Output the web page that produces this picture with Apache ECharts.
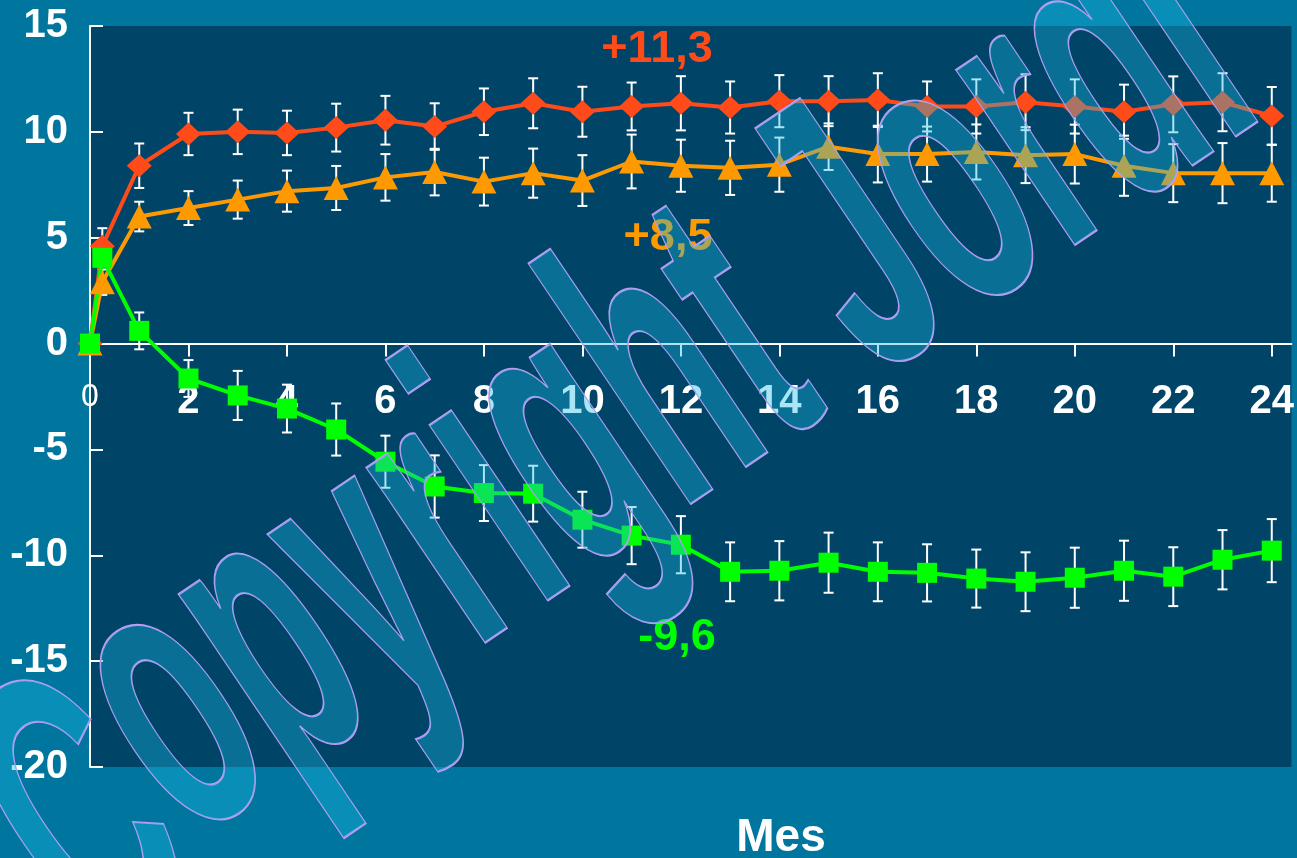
<!DOCTYPE html>
<html>
<head>
<meta charset="utf-8">
<script src="https://cdn.jsdelivr.net/npm/echarts@6/dist/echarts.min.js"></script>
<style>
html, body { margin: 0; padding: 0; background: #00769F; }
#main { width: 1297px; height: 858px; }
</style>
</head>
<body>
<div id="main"></div>
<script>
// meses (0, 1 semana, 1..24)
var months = [0, 0.25, 1, 2, 3, 4, 5, 6, 7, 8, 9, 10, 11, 12, 13, 14, 15, 16, 17, 18, 19, 20, 21, 22, 23, 24];

var redVals = [0, 4.6, 8.4, 9.9, 10.0, 9.95, 10.2, 10.55, 10.25, 10.95, 11.35, 10.95, 11.2, 11.35, 11.15, 11.45, 11.45, 11.5, 11.2, 11.2, 11.4, 11.2, 10.95, 11.3, 11.4, 10.75];
var redErr = [0, 0.85, 1.05, 1.0, 1.05, 1.05, 1.13, 1.15, 1.1, 1.1, 1.18, 1.18, 1.13, 1.28, 1.23, 1.23, 1.18, 1.27, 1.18, 1.28, 1.32, 1.28, 1.28, 1.32, 1.37, 1.37];

var orangeVals = [0, 2.9, 6.0, 6.4, 6.8, 7.2, 7.35, 7.85, 8.1, 7.65, 8.05, 7.7, 8.6, 8.4, 8.3, 8.45, 9.3, 8.95, 8.95, 9.05, 8.9, 8.95, 8.4, 8.05, 8.05, 8.05];
var orangeErr = [0, 0.6, 0.7, 0.8, 0.9, 0.97, 1.04, 1.1, 1.1, 1.13, 1.16, 1.2, 1.27, 1.23, 1.28, 1.28, 1.1, 1.34, 1.3, 1.3, 1.32, 1.39, 1.42, 1.37, 1.42, 1.35];

var greenVals = [0, 4.05, 0.6, -1.65, -2.45, -3.07, -4.06, -5.58, -6.75, -7.06, -7.09, -8.32, -9.07, -9.5, -10.78, -10.73, -10.35, -10.78, -10.83, -11.1, -11.25, -11.06, -10.73, -11.01, -10.21, -9.78];
var greenErr = [0, 0, 0.87, 0.87, 1.16, 1.13, 1.23, 1.23, 1.47, 1.32, 1.32, 1.32, 1.35, 1.35, 1.39, 1.4, 1.42, 1.39, 1.35, 1.37, 1.39, 1.42, 1.42, 1.39, 1.4, 1.49];

var endLabels = ['+11,3', '+8,5', '-9,6'];
var xTitle = 'Mes';
var watermark = ['C', 'opyright Jordi'];

var RED = '#FF4B19', ORANGE = '#FF9900', GREEN = '#00FF00';

// grid box
var GRID_TOP = 26, GRID_BOTTOM = 91, H = 858;
var Y_MIN = -20, Y_MAX = 15;
var plotH = H - GRID_TOP - GRID_BOTTOM;
// move x axis up to y = 0
var xOffset = -plotH * (0 - Y_MIN) / (Y_MAX - Y_MIN);

function pairs(vals) {
    return months.map(function (m, i) { return [m, vals[i]]; });
}
function errPairs(vals, errs) {
    return months.map(function (m, i) { return [m, vals[i] - errs[i], vals[i] + errs[i]]; });
}

function renderErr(params, api) {
    var x = api.value(0), lo = api.value(1), hi = api.value(2);
    if (hi - lo < 0.01) return null;
    var p1 = api.coord([x, hi]);
    var p2 = api.coord([x, lo]);
    var w = 5;
    var st = { stroke: '#ffffff', lineWidth: 2 };
    return {
        type: 'group',
        children: [
            { type: 'line', shape: { x1: p1[0], y1: p1[1], x2: p2[0], y2: p2[1] }, style: st },
            { type: 'line', shape: { x1: p1[0] - w, y1: p1[1], x2: p1[0] + w, y2: p1[1] }, style: st },
            { type: 'line', shape: { x1: p2[0] - w, y1: p2[1], x2: p2[0] + w, y2: p2[1] }, style: st }
        ]
    };
}

function errSeries(vals, errs) {
    return {
        type: 'custom',
        renderItem: renderErr,
        encode: { x: 0, y: [1, 2] },
        data: errPairs(vals, errs),
        z: 1,
        silent: true
    };
}

function lineSeries(vals, color, symbol, size) {
    return {
        type: 'line',
        data: pairs(vals),
        symbol: symbol,
        symbolSize: size,
        showAllSymbol: true,
        lineStyle: { color: color, width: 4 },
        itemStyle: { color: color },
        z: 3
    };
}

// watermark placement (rotated, stretched text)
var WM_FONT = 'bold 200px "Liberation Sans"';
var WM_ROT = 34 * Math.PI / 180;
var WM_SX = 0.97, WM_SY = 2;
var WM_X = 10, WM_Y = 830;
var measureCtx = document.createElement('canvas').getContext('2d');
measureCtx.font = WM_FONT;
var cAdvance = measureCtx.measureText(watermark[0]).width * WM_SX;
var ux = Math.cos(WM_ROT), uy = -Math.sin(WM_ROT);

function wmText(text, x, y) {
    return {
        type: 'text', x: x, y: y, z: 100,
        rotation: WM_ROT,
        scaleX: WM_SX, scaleY: WM_SY,
        silent: true,
        style: {
            text: text,
            font: WM_FONT,
            fill: 'rgba(25,185,228,0.37)',
            stroke: '#C89AF0',
            lineWidth: 1.2,
            align: 'left',
            verticalAlign: 'middle'
        }
    };
}

var dom = document.getElementById('main');
var myChart = echarts.init(dom);

var option = {
    animation: false,
    backgroundColor: '#00769F',
    grid: {
        left: 90, right: 0, top: GRID_TOP, bottom: GRID_BOTTOM,
        show: true, backgroundColor: '#004567', borderWidth: 0
    },
    xAxis: {
        type: 'value',
        min: 0, max: 24.4, interval: 2,
        position: 'bottom',
        offset: xOffset,
        axisLine: { onZero: false, lineStyle: { color: '#ffffff', width: 2 } },
        axisTick: { length: 13, lineStyle: { color: '#ffffff', width: 2 } },
        splitLine: { show: false },
        axisLabel: {
            margin: 38,
            color: '#ffffff',
            fontFamily: 'Liberation Sans',
            fontWeight: 'bold',
            fontSize: 40,
            showMaxLabel: false,
            formatter: function (v) {
                if (v === 0) return '{z|0}';
                if (v % 2 !== 0) return '';
                return String(v);
            },
            rich: {
                z: { fontFamily: 'Liberation Sans', fontWeight: 'normal', fontSize: 32, color: '#ffffff', padding: [0, 0, 8, 0] }
            }
        }
    },
    yAxis: {
        type: 'value',
        min: Y_MIN, max: Y_MAX, interval: 5,
        axisLine: { show: true, lineStyle: { color: '#ffffff', width: 2 } },
        axisTick: { show: true, inside: true, length: 13, lineStyle: { color: '#ffffff', width: 2 } },
        splitLine: { show: false },
        axisLabel: {
            margin: 22,
            color: '#ffffff',
            fontFamily: 'Liberation Sans',
            fontWeight: 'bold',
            fontSize: 40
        }
    },
    series: [
        errSeries(redVals, redErr),
        errSeries(orangeVals, orangeErr),
        errSeries(greenVals, greenErr),
        lineSeries(redVals, RED, 'diamond', [25, 23]),
        lineSeries(orangeVals, ORANGE, 'triangle', [25, 24]),
        lineSeries(greenVals, GREEN, 'rect', 20)
    ],
    graphic: [
        {
            type: 'text', x: 657, y: 50, z: 50,
            style: { text: endLabels[0], font: 'bold 45px "Liberation Sans"', fill: RED, align: 'center', verticalAlign: 'middle' }
        },
        {
            type: 'text', x: 668, y: 238, z: 50,
            style: { text: endLabels[1], font: 'bold 45px "Liberation Sans"', fill: ORANGE, align: 'center', verticalAlign: 'middle' }
        },
        {
            type: 'text', x: 677, y: 638, z: 50,
            style: { text: endLabels[2], font: 'bold 45px "Liberation Sans"', fill: GREEN, align: 'center', verticalAlign: 'middle' }
        },
        {
            type: 'text', x: 781, y: 838, z: 50,
            style: { text: xTitle, font: 'bold 46px "Liberation Sans"', fill: '#ffffff', align: 'center', verticalAlign: 'middle' }
        },
        wmText(watermark[0], WM_X + 22, WM_Y + 40),
        wmText(watermark[1], WM_X + cAdvance * ux, WM_Y + cAdvance * uy)
    ]
};

myChart.setOption(option, true);
</script>
</body>
</html>
